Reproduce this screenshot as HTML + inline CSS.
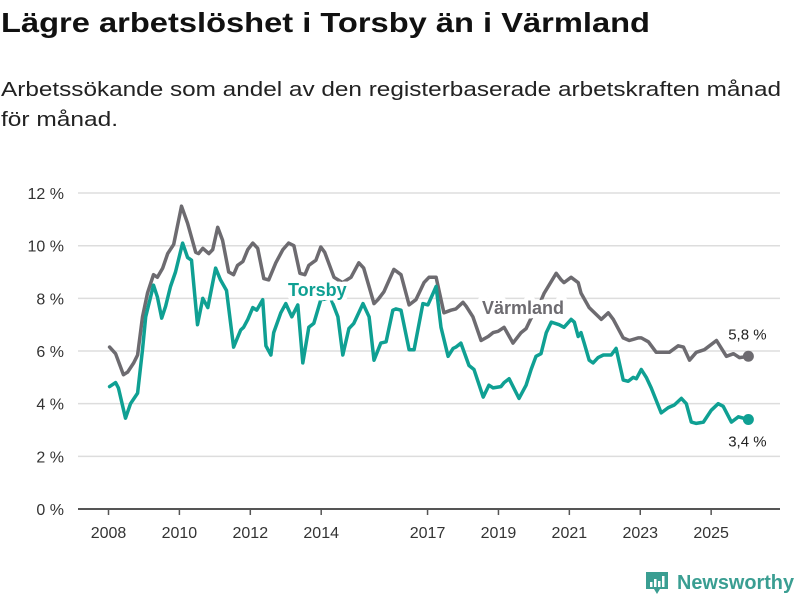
<!DOCTYPE html>
<html><head><meta charset="utf-8"><style>
html,body{margin:0;padding:0;background:#fff;}
svg{display:block;font-family:"Liberation Sans","DejaVu Sans",sans-serif;}
</style></head><body>
<svg id="chart" width="800" height="600" viewBox="0 0 800 600" xmlns="http://www.w3.org/2000/svg">
<text x="1" y="32" font-size="28" font-weight="bold" fill="#111" textLength="649" lengthAdjust="spacingAndGlyphs">Lägre arbetslöshet i Torsby än i Värmland</text>
<text x="1" y="96" font-size="20" fill="#222" textLength="780" lengthAdjust="spacingAndGlyphs">Arbetssökande som andel av den registerbaserade arbetskraften månad</text>
<text x="1" y="126" font-size="20" fill="#222" textLength="117" lengthAdjust="spacingAndGlyphs">för månad.</text>
<g id="grid"></g><g id="xaxis"></g><g id="lines"></g><g id="labels"></g>
<g>
<path d="M646 572 h22 v17 h-8 l-3 5 l-3 -5 h-8 z" fill="#3a9e92"/>
<rect x="650" y="582" width="2.5" height="5" fill="#fff"/><rect x="654" y="579" width="2.5" height="8" fill="#fff"/><rect x="658" y="581" width="2.5" height="6" fill="#fff"/><rect x="662" y="576" width="2.5" height="11" fill="#fff"/>
<text x="677" y="589" font-size="20" font-weight="bold" fill="#3a9e92" textLength="117" lengthAdjust="spacingAndGlyphs">Newsworthy</text>
</g>
</svg>
<script>
const yTicks=[0,2,4,6,8,10,12];
const xTickYears=[2008,2010,2012,2014,2017,2019,2021,2023,2025];
const varmlandDates=[2008.03,2008.20,2008.42,2008.54,2008.71,2008.82,2008.96,2009.10,2009.27,2009.38,2009.53,2009.67,2009.84,2010.06,2010.23,2010.46,2010.54,2010.66,2010.83,2010.94,2011.08,2011.22,2011.39,2011.53,2011.64,2011.79,2011.93,2012.07,2012.21,2012.38,2012.52,2012.72,2012.92,2013.08,2013.23,2013.40,2013.54,2013.65,2013.85,2013.99,2014.10,2014.36,2014.60,2014.84,2015.06,2015.20,2015.49,2015.60,2015.77,2016.05,2016.25,2016.48,2016.67,2016.90,2017.04,2017.24,2017.46,2017.66,2017.80,2018.00,2018.09,2018.28,2018.51,2018.71,2018.85,2018.99,2019.16,2019.41,2019.64,2019.78,2019.92,2020.10,2020.29,2020.63,2020.77,2020.85,2021.05,2021.25,2021.33,2021.56,2021.90,2022.10,2022.24,2022.52,2022.69,2022.94,2023.03,2023.23,2023.45,2023.82,2024.07,2024.22,2024.39,2024.58,2024.81,2025.15,2025.43,2025.63,2025.80,2026.05];
const varmlandValues=[6.15,5.9,5.1,5.2,5.55,5.85,7.3,8.2,8.9,8.8,9.15,9.7,10.05,11.5,10.85,9.75,9.7,9.9,9.7,9.85,10.7,10.2,9.0,8.9,9.25,9.4,9.85,10.1,9.9,8.75,8.7,9.35,9.85,10.1,10.0,8.95,8.9,9.25,9.45,9.95,9.75,8.8,8.6,8.8,9.35,9.15,7.8,7.95,8.25,9.1,8.9,7.75,7.95,8.6,8.8,8.8,7.45,7.55,7.6,7.85,7.7,7.3,6.4,6.55,6.7,6.75,6.9,6.3,6.7,6.85,7.25,7.6,8.2,8.95,8.7,8.6,8.8,8.6,8.2,7.65,7.2,7.45,7.2,6.5,6.4,6.5,6.5,6.35,5.95,5.95,6.2,6.15,5.65,5.95,6.05,6.4,5.8,5.9,5.75,5.8];
const torsbyDates=[2008.03,2008.20,2008.28,2008.48,2008.62,2008.82,2008.96,2009.05,2009.13,2009.27,2009.38,2009.50,2009.61,2009.75,2009.89,2010.09,2010.23,2010.34,2010.51,2010.66,2010.80,2011.02,2011.16,2011.33,2011.53,2011.73,2011.81,2011.93,2012.07,2012.18,2012.35,2012.44,2012.58,2012.66,2012.86,2013.00,2013.17,2013.34,2013.48,2013.65,2013.79,2013.99,2014.27,2014.47,2014.61,2014.78,2014.92,2015.18,2015.35,2015.49,2015.68,2015.83,2016.02,2016.11,2016.25,2016.48,2016.62,2016.87,2017.01,2017.24,2017.38,2017.58,2017.72,2017.80,2017.94,2018.17,2018.31,2018.57,2018.73,2018.85,2019.07,2019.16,2019.30,2019.58,2019.78,2019.92,2020.06,2020.20,2020.35,2020.49,2020.71,2020.85,2021.05,2021.14,2021.25,2021.33,2021.42,2021.56,2021.67,2021.81,2021.96,2022.18,2022.32,2022.52,2022.66,2022.80,2022.89,2023.03,2023.17,2023.31,2023.59,2023.79,2023.96,2024.16,2024.30,2024.44,2024.58,2024.78,2025.00,2025.20,2025.34,2025.57,2025.77,2026.05];
const torsbyValues=[4.65,4.8,4.6,3.45,4.0,4.4,6.05,7.3,7.75,8.5,8.05,7.25,7.7,8.45,9.0,10.1,9.55,9.45,7.0,8.0,7.65,9.15,8.7,8.3,6.15,6.8,6.9,7.2,7.65,7.55,7.95,6.2,5.85,6.7,7.45,7.8,7.3,7.75,5.55,6.9,7.05,7.95,8.0,7.3,5.85,6.85,7.05,7.8,7.3,5.65,6.3,6.35,7.55,7.6,7.55,6.05,6.05,7.8,7.75,8.45,6.9,5.8,6.1,6.15,6.3,5.45,5.3,4.25,4.7,4.6,4.65,4.8,4.95,4.2,4.7,5.3,5.8,5.9,6.7,7.1,7.0,6.9,7.2,7.1,6.55,6.7,6.3,5.65,5.55,5.75,5.85,5.85,6.1,4.9,4.85,5.0,4.95,5.3,5.0,4.6,3.65,3.85,3.95,4.2,4.0,3.3,3.25,3.3,3.75,4.0,3.9,3.3,3.5,3.4];

const NS='http://www.w3.org/2000/svg';
function xs(year){return 108.5+(year-2008)*35.45;}
function ys(v){return 509-v*26.33;}
function mk(tag,attrs,parent){const e=document.createElementNS(NS,tag);for(const k in attrs)e.setAttribute(k,attrs[k]);parent.appendChild(e);return e;}
const grid=document.getElementById('grid'),xa=document.getElementById('xaxis'),lines=document.getElementById('lines'),labels=document.getElementById('labels');
yTicks.forEach(t=>{
  const l=mk('line',{x1:78,x2:780,y1:ys(t),y2:ys(t),stroke:t===0?'#555':'#ddd','stroke-width':t===0?2:1.5},grid);
  
  
  const tx=mk('text',{x:64,y:ys(t)+6,'text-anchor':'end','font-size':16,fill:'#333'},grid);
  tx.textContent=t+' %';
  
  
});
xTickYears.forEach(yr=>{
  const tk=mk('line',{x1:xs(yr),x2:xs(yr),y1:509,y2:515,stroke:'#555','stroke-width':1.5},xa);
  
  
  const tx=mk('text',{x:xs(yr),y:538,'text-anchor':'middle','font-size':16,fill:'#333'},xa);
  tx.textContent=String(yr);
  
  
});
function drawSeries(dates,vals,color,name){
  const d=dates.map((t,i)=>(i?'L':'M')+xs(t).toFixed(1)+' '+ys(vals[i]).toFixed(1)).join(' ');
  const p=mk('path',{d:d,fill:'none',stroke:color,'stroke-width':3.5,'stroke-linejoin':'round','stroke-linecap':'round'},lines);
  
  
  const n=dates.length-1;
  const c=mk('circle',{cx:xs(dates[n]),cy:ys(vals[n]),r:5.5,fill:color},lines);
  
  
  return [xs(dates[n]),ys(vals[n]),vals[n]];
}
const vEnd=drawSeries(varmlandDates,varmlandValues,'#6d6b70','varmland');
const tEnd=drawSeries(torsbyDates,torsbyValues,'#0fa093','torsby');
function lab(x,y,txt,color,size,bold,name,anchor,halo){
  const t=mk('text',{x:x,y:y,'font-size':size,'font-weight':bold?'bold':'normal',fill:color,stroke:'#fff','stroke-width':halo,'paint-order':'stroke','stroke-linejoin':'round','text-anchor':anchor||'start'},labels);
  t.textContent=txt;
  
  
}
lab(288,296,'Torsby','#0fa093',18,true,'torsby-series-label','start',9);
lab(482,314,'Värmland','#6d6b70',18,true,'varmland-series-label','start',9);
lab(vEnd[0]-1,vEnd[1]-17,vEnd[2].toFixed(1).replace('.',',')+' %','#222',15,false,'varmland-end-value','middle',5);
lab(tEnd[0]-1,tEnd[1]+27,tEnd[2].toFixed(1).replace('.',',')+' %','#222',15,false,'torsby-end-value','middle',5);
</script>
</body></html>
